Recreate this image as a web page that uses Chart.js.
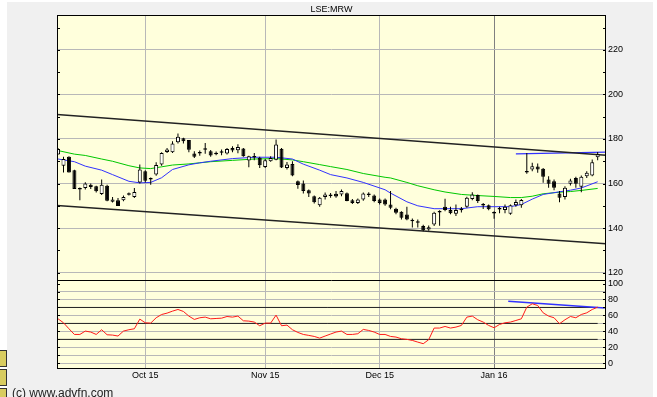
<!DOCTYPE html>
<html>
<head>
<meta charset="utf-8">
<script src="https://cdn.jsdelivr.net/npm/chart.js@4.4.1/dist/chart.umd.min.js"></script>
<style>
html,body{margin:0;padding:0;background:#fff;}
#wrap{position:relative;width:657px;height:397px;overflow:hidden;font-family:"Liberation Sans",Arial,sans-serif;}
#bg{position:absolute;left:7px;top:2px;width:646px;height:395px;background:#f0f0f0;}
#c{position:absolute;left:0;top:0;}
#copy{position:absolute;left:12px;top:386px;font-size:12px;line-height:14px;color:#222;white-space:nowrap;}
.ico{position:absolute;left:0;width:6px;background:#d8cc60;border:1px solid #333;border-left:none;}
</style>
</head>
<body>
<div id="wrap">
  <div id="bg"></div>
  <div class="ico" style="top:350px;height:15px"></div>
  <div class="ico" style="top:369px;height:15px"></div>
  <div class="ico" style="top:388px;height:12px"></div>
  <canvas id="c" width="657" height="397"></canvas>
  <div id="copy">(c) www.advfn.com</div>
</div>
<script>
'use strict';

/* ---------- Daten (LSE:MRW, Tageskerzen, Index 0 = 23.09.2015) ---------- */
const monthIdx    = [16, 38, 59, 80];
const monthLabels = ['Oct 15', 'Nov 15', 'Dec 15', 'Jan 16'];

const opens = [173,168,172,166,158,158,159.5,158.8,155.3,159,
  151.8,152.5,152.5,155.6,154,160.5,165.5,162.5,164,168.5,
  174.2,174,178.5,180.3,179.5,173.5,173.5,175.2,174.5,173.2,
  173.8,173.5,176,174.9,175.7,170.3,171.7,171.6,167.4,170,
  170.7,175.6,167,168.8,161,160,157,154.3,150.3,154,
  154.4,155.4,155.1,155.6,152.5,151.3,152.8,155.3,154.6,152.8,
  152.8,150.6,148.7,147.3,146.1,143.3,142.4,140.9,139.4,141.6,
  147,149.6,148.1,146.4,148,149.6,153.1,154.8,150.1,150.2,
  147,148.3,148.1,146.4,150.2,150.2,165.6,166.3,167.6,166.6,
  161.8,161,155.5,154,159.9,162.5,158.5,163.3,163.6,171.8];
const highs = [176,172,172.3,166.2,158.2,160.6,160,159,161.8,159.5,
  154,153.5,154.6,156,158,168.5,166,162.7,169.5,174,
  176,179,182.5,180.5,179.5,174.5,174.8,178.2,175,174.4,
  175.3,176,176.7,177.6,176,172.5,173.7,172,171,172.3,
  179.8,176,169.7,170,161.4,161.4,157.3,154.6,154,156,
  155.8,156.6,157.3,156,153,153.3,156,156.1,155.1,153.3,
  153.3,156.6,149.1,147.6,149.6,144.3,143.9,141.5,141.2,147.3,
  148,153.2,149.6,150.6,149.5,154.1,156.1,155.1,151.3,150.6,
  147.6,149.6,150.6,150.6,152.8,153.1,173.7,169.3,169,167,
  163.3,161.8,156.6,158.8,162.1,163,163.6,165.5,170.8,174.2];
const lows = [173,165,165,157.5,152.5,157.3,157.5,156,154.8,152,
  151.5,149.9,152,154.6,153.5,160,160.5,159.5,163.5,168,
  173.7,173.7,178,178,174,171.5,172.5,173.4,172,172.7,
  172.7,173,174,173.6,172,167.3,170.5,167,167,169.8,
  170.5,167,166.3,163.3,157.6,155.5,154,151,149.6,152.8,
  153.6,153.6,154.3,152,150.8,150.8,152.3,154,151.6,150.6,
  150,148.5,146.2,143.9,143.5,140.2,140.2,138.6,138.8,140.9,
  141,147.6,146.2,145.4,147,149.1,152.5,151.3,148.6,148,
  144.2,146.6,146.6,146,149.6,149.1,164.4,165.5,164.8,160.3,
  158.1,157,151.6,152.8,159.1,158.1,156.1,162.5,163.3,170.4];
const closes = [175.5,171,165,157.5,157.3,160,158.4,156.5,159.5,152.3,
  152.8,149.9,154,155,156.2,166.3,161.3,161.8,168.3,173.7,
  175.3,178,181,179,175.2,172,173.8,175.8,172.6,173.6,
  174.2,175.5,174.8,176.4,172.2,172.2,172.1,168.2,170.5,171.5,
  177.5,167.2,168.5,163.6,159.3,156.6,155.5,151.6,153.6,155.1,
  155,154.2,156.6,152.1,151.3,152.8,155.5,154.8,152.1,151.3,
  150.6,149.1,146.9,144.6,143.9,143.1,142.6,139,140.4,146.9,
  147.4,148.1,146.7,148.1,148.8,153.6,155.1,152.1,150.2,148.4,
  146.5,148.7,149.6,150.2,151.7,152.6,164.9,167.8,166.3,163,
  159.9,158.1,153.6,158.1,161.4,159.9,163,164.8,169.6,173.1];

const maIdx  = [0,3,5,8,10,13,15,17,19,21,24,26,28,32,36,40,43,45,48,50,
  53,56,60,61,64,66,69,71,74,77,80,83,85,87,89,92,94,96,99];
const maFast = [171,169.8,167.8,166,164,161,160.3,160.5,162.6,166.3,168.4,169.3,170,171.2,171.8,171.8,171,168.7,166,164,
  162.5,160.5,157.2,155.7,151.8,150,148.7,148.7,148.7,149.6,149.6,149.6,150.6,153,155.1,156.3,157,158,160.8];
const maSlow = [174.8,173.2,172.6,171,170,168,167,166.7,167.5,168.3,168.8,169.3,169.8,170.4,171,171.2,170.6,169.8,168.5,167.6,
  166.3,164.5,162.8,162.5,160.5,159,157.2,156.2,155.1,154.6,154.2,153.7,153.7,154.3,155.4,156.1,156.4,156.9,157.8];

const rsi = [55.8,50.8,43.3,36.2,36.2,40.4,39.2,36.2,42.1,35.8,
  35.4,34.2,40.4,42.1,43.3,55.4,50.8,50.4,57.1,61.2,
  62.9,65.4,67.5,65,59.2,55,57.1,57.9,55.8,56.2,
  56.6,58.7,57.9,59.2,53.3,52.9,51.7,47.1,50.4,50.4,
  60.4,47.1,47.9,42.1,38.7,36.2,35,33.7,31.6,34.2,
  36.7,39.2,40.4,36.2,36.2,37.1,42.5,41.2,39.2,36.2,
  36.2,33.7,32.9,30.8,30,28.7,26.6,24.6,29.6,44.2,
  44.2,46.2,44.2,45.4,47.5,57.9,59.2,54.6,51.7,47.5,
  44.6,48.7,50.8,51.7,53.7,55.8,70.4,74.6,72.5,63.3,
  59.2,57.1,49.6,54.6,58.7,57.1,61.2,63.3,67.5,70.4];
const rsiLevels = [30, 50, 70];

/* Trendlinien */
const channelIdx = [-1, 101];
const channelTop = [191.15, 172.63];
const channelBot = [150.24, 132.9];
const resIdx   = [84, 100.5];
const resPrice = [173.3, 174.1];
const rsiTrendIdx = [82.6, 100.3];
const rsiTrend    = [77.7, 69.3];

const priceTicks = [120,130,140,150,160,170,180,190,200,210,220,230];
const rsiTicks   = [0,10,20,30,40,50,60,70,80,90,100];

/* ---------- Aufbau ---------- */
const FONT = { family: 'Liberation Sans, Arial, sans-serif', size: 9 };
const GRID = '#b8b8b8';
const idx = opens.map((_, i) => i);
const pts = (xs, ys) => xs.map((x, k) => ({ x, y: ys[k] }));
const line = (data, color, width, yAxisID, order) =>
  ({ type: 'line', data, borderColor: color, borderWidth: width, pointRadius: 0,
     tension: 0, yAxisID, order });

const panel = {
  id: 'panel',
  beforeDraw(chart) {
    const { ctx, chartArea: a } = chart;
    ctx.save();
    ctx.fillStyle = '#ffffdc';
    ctx.fillRect(a.left, a.top, a.right - a.left, a.bottom - a.top);
    ctx.restore();
  },
  afterDatasetsDraw(chart) {
    const { ctx, chartArea: a, scales } = chart;
    ctx.save();
    ctx.strokeStyle = '#000';
    ctx.lineWidth = 1;
    ctx.beginPath();
    [[scales.y, priceTicks], [scales.y2, rsiTicks]].forEach(([s, ticks]) => {
      ticks.forEach(v => {
        const y = Math.round(s.getPixelForValue(v)) + 0.5;
        if (y < s.top || y > s.bottom) return;
        ctx.moveTo(a.left, y); ctx.lineTo(a.left + 3, y);
        ctx.moveTo(a.right - 3, y); ctx.lineTo(a.right, y);
      });
    });
    const sep = Math.round(scales.y2.top) + 0.5;
    ctx.moveTo(a.left, sep); ctx.lineTo(a.right, sep);
    ctx.stroke();
    ctx.strokeRect(a.left + 0.5, a.top + 0.5, a.right - a.left - 1, a.bottom - a.top - 1);
    ctx.restore();
  }
};

new Chart(document.getElementById('c'), {
  type: 'line',
  data: {
    datasets: [
      { type: 'bar', data: idx.map(i => ({ x: i, y: [lows[i], highs[i]] })),
        backgroundColor: '#000', borderWidth: 0, barThickness: 1, inflateAmount: 0,
        grouped: false, yAxisID: 'y', order: 2 },
      { type: 'bar', data: idx.map(i => ({ x: i, y: [opens[i], closes[i]] })),
        backgroundColor: idx.map(i => closes[i] >= opens[i] ? '#fff' : '#000'),
        borderColor: '#000', borderWidth: 1, borderSkipped: false, barThickness: 4,
        minBarLength: 1.5, inflateAmount: 0, grouped: false, yAxisID: 'y', order: 1 },
      line(pts(maIdx, maSlow), '#00c800', 1, 'y', 4),
      line(pts(maIdx, maFast), '#3232ff', 1, 'y', 3),
      line(pts(channelIdx, channelTop), '#222', 1.4, 'y', 5),
      line(pts(channelIdx, channelBot), '#222', 1.4, 'y', 5),
      line(pts(resIdx, resPrice), '#3232ff', 1.4, 'y', 5),
      ...rsiLevels.map(l => line(pts([idx[0], idx[idx.length - 1]], [l, l]), '#222', 1, 'y2', 6)),
      line(idx.map(i => ({ x: i, y: rsi[i] })), '#ff1a1a', 1, 'y2', 3),
      line(pts(rsiTrendIdx, rsiTrend), '#3232ff', 1.4, 'y2', 5)
    ]
  },
  options: {
    responsive: false,
    animation: false,
    devicePixelRatio: 1,
    events: [],
    layout: { padding: { left: 57, right: 21, top: 0, bottom: 15.2 } },
    plugins: {
      legend: { display: false },
      tooltip: { enabled: false },
      title: { display: true, text: 'LSE:MRW', fullSize: false, color: '#000',
               font: { ...FONT, weight: 'normal' }, padding: { top: 4.2, bottom: 0 } }
    },
    scales: {
      x: {
        type: 'linear', min: -0.193, max: 100.53, offset: false,
        afterBuildTicks: s => { s.ticks = monthIdx.map(v => ({ value: v })); },
        ticks: { callback: v => monthLabels[monthIdx.indexOf(v)] ?? '', autoSkip: false,
                 maxRotation: 0, padding: 1, color: '#000', font: FONT },
        grid: { color: c => c.index === 3 ? '#808080' : GRID, drawTicks: false, offset: false },
        border: { display: false }
      },
      y: {
        type: 'linear', axis: 'y', position: 'right', stack: 'panes', stackWeight: 266,
        min: 116.57, max: 235.67,
        afterBuildTicks: s => { s.ticks = priceTicks.map(v => ({ value: v })); },
        afterFit: s => { s.width = 30; },
        ticks: { callback: v => v % 20 === 0 ? String(v) : '', autoSkip: false,
                 padding: 2, color: '#000', font: FONT },
        grid: { color: c => c.tick && c.tick.value % 20 === 0 ? GRID : 'rgba(0,0,0,0)', drawTicks: false },
        border: { display: false }
      },
      y2: {
        type: 'linear', axis: 'y', position: 'right', stack: 'panes', stackWeight: 89,
        min: -7.1, max: 104.1,
        afterBuildTicks: s => { s.ticks = rsiTicks.map(v => ({ value: v })); },
        afterFit: s => { s.width = 30; },
        ticks: { callback: v => v % 20 === 0 ? String(v) : '', autoSkip: false,
                 padding: 2, color: '#000', font: FONT },
        grid: { color: c => c.tick && c.tick.value < 100 ? GRID : 'rgba(0,0,0,0)', drawTicks: false },
        border: { display: false }
      }
    }
  },
  plugins: [panel]
});
</script>
</body>
</html>
